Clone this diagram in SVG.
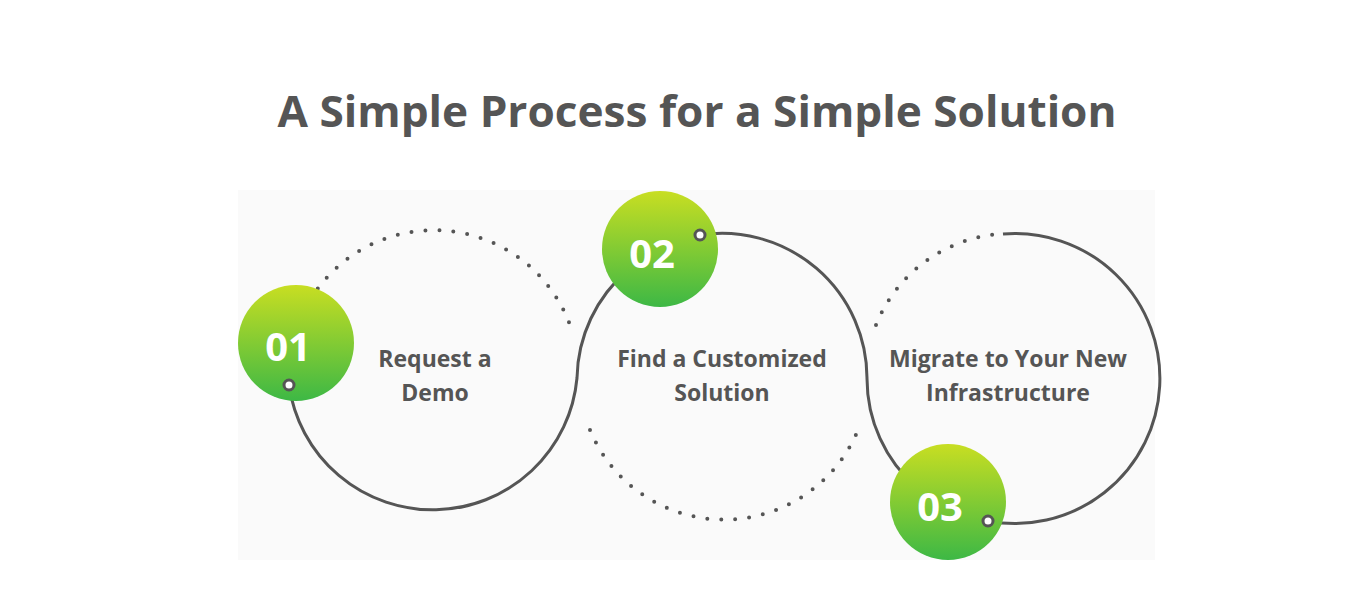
<svg xmlns="http://www.w3.org/2000/svg" width="1362" height="598" viewBox="0 0 1362 598">
<style>
.t{font-family:"Open Sans","Liberation Sans",sans-serif;fill:#555;font-weight:700;text-anchor:middle}
.lbl{font-size:23px}
.num{font-family:"Open Sans","Liberation Sans",sans-serif;fill:#fff;font-weight:700;font-size:40px;text-anchor:middle}
.solid{fill:none;stroke:#555;stroke-width:3}
.dot{fill:none;stroke:#555;stroke-width:4;stroke-linecap:round;stroke-dasharray:0 14}
.ring{fill:#fff;stroke:#555;stroke-width:3}
</style>
<defs>
<linearGradient id="g" x1="0" y1="0" x2="0" y2="1">
<stop offset="0" stop-color="#c8de22"/><stop offset="1" stop-color="#3db845"/>
</linearGradient>
<marker id="arr" viewBox="0 0 20 20" refX="18" refY="10" markerWidth="20" markerHeight="20" markerUnits="userSpaceOnUse" orient="auto">
<path d="M2,2 L18,10 L2,18 Z" fill="none" stroke="#555" stroke-width="3" stroke-linejoin="round"/>
</marker>
</defs>
<rect width="1362" height="598" fill="#fff"/>
<rect x="238" y="190" width="917" height="370" fill="#fafafa"/>
<text class="t" x="697" y="127" font-size="43" font-weight="600" textLength="839" lengthAdjust="spacingAndGlyphs">A Simple Process for a Simple Solution</text>
<g id="connectors">
<path class="dot" d="M310,300 A145,145 0 0 1 570,325"/>
<path class="dot" d="M590,430 A145,145 0 0 0 858,430"/>
<path class="dot" d="M876,325 A145,145 0 0 1 1000,234"/>
<path class="solid" d="M289,385 A145,145 0 0 0 577,378 A145,145 0 0 1 628,270" marker-end="url(#arr)"/>
<path class="solid" d="M700,235 A145,145 0 0 1 867,378 A145,145 0 0 0 917,488" marker-end="url(#arr)"/>
<path class="solid" d="M1003,234 A145,145 0 1 1 988,521"/>
</g>
<g id="n1"><circle cx="296" cy="343" r="58" fill="url(#g)"/><text class="num" x="288" y="361">01</text><circle class="ring" cx="289" cy="385" r="5"/></g>
<g id="n2"><circle cx="660" cy="249" r="58" fill="url(#g)"/><text class="num" x="652" y="268">02</text><circle class="ring" cx="700" cy="235" r="5"/></g>
<g id="n3"><circle cx="948" cy="502" r="58" fill="url(#g)"/><text class="num" x="940" y="521">03</text><circle class="ring" cx="988" cy="521" r="5"/></g>
<g id="l1"><text class="t lbl" x="435" y="367">Request a</text><text class="t lbl" x="435" y="401">Demo</text></g>
<g id="l2"><text class="t lbl" x="722" y="367">Find a Customized</text><text class="t lbl" x="722" y="401">Solution</text></g>
<g id="l3"><text class="t lbl" x="1008" y="367">Migrate to Your New</text><text class="t lbl" x="1008" y="401">Infrastructure</text></g>
</svg>
